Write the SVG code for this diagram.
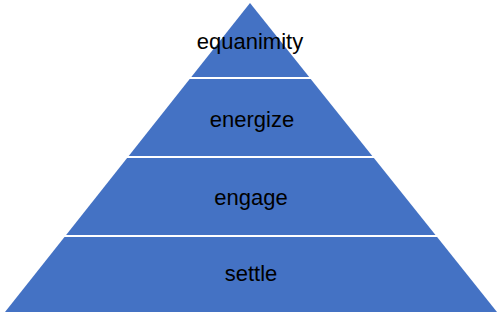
<svg xmlns="http://www.w3.org/2000/svg" width="502" height="315" viewBox="0 0 502 315">
<style>
.layer{fill:#4472C4;}
.lbl{font-family:"Liberation Sans",Arial,sans-serif;font-size:22px;fill:#000;text-anchor:middle;}
</style>
<rect width="502" height="315" fill="#fff"/>
<g id="equanimity">
<polygon class="layer" points="250,3 309.2,77 191.3,77"/>
<text class="lbl" x="250" y="49">equanimity</text>
</g>
<g id="energize">
<polygon class="layer" points="189.7,79 310.7,79 372.3,156 128.7,156"/>
<text class="lbl" x="252" y="127">energize</text>
</g>
<g id="engage">
<polygon class="layer" points="127.1,158 373.9,158 435.5,235 66.1,235"/>
<text class="lbl" x="251" y="205">engage</text>
</g>
<g id="settle">
<polygon class="layer" points="64.5,237 437.1,237 497,312 5,312"/>
<text class="lbl" x="251" y="281">settle</text>
</g>
<g id="connectors"></g>
</svg>
